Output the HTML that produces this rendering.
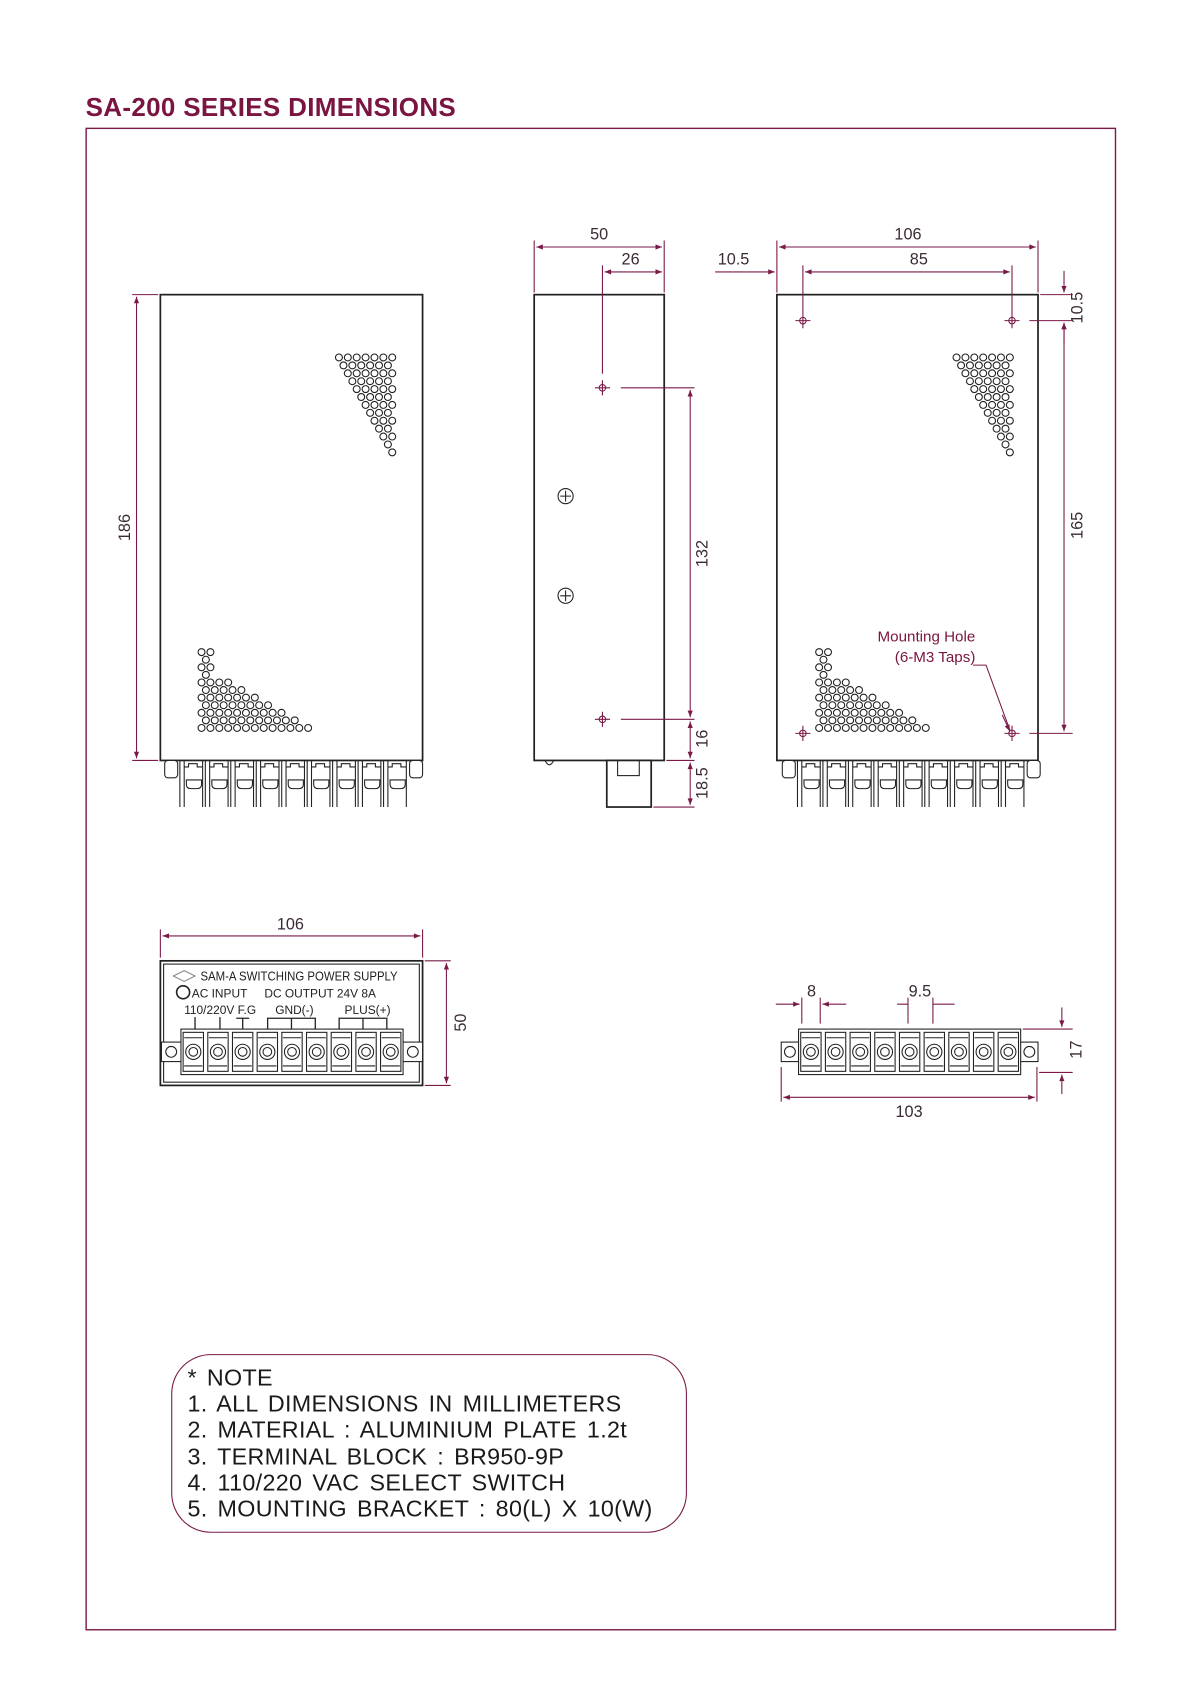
<!DOCTYPE html>
<html><head><meta charset="utf-8"><style>
html,body{margin:0;padding:0;background:#fff;}
svg{display:block;}
text{font-family:"Liberation Sans",sans-serif;}
</style></head><body>
<svg id="s" width="1200" height="1698" viewBox="0 0 1107.5 1567.5" preserveAspectRatio="none" xmlns="http://www.w3.org/2000/svg">
<defs>
<marker id="a" viewBox="0 0 10 10" refX="10" refY="5" markerWidth="8" markerHeight="6" orient="auto-start-reverse" markerUnits="userSpaceOnUse"><path d="M0,1 L10,5 L0,9 z" fill="#7a1a48"/></marker>
</defs>
<text x="79" y="107" font-size="24" fill="#7a1440" font-weight="bold" letter-spacing="0.3">SA-200  SERIES  DIMENSIONS</text>
<rect x="79.5" y="118.5" width="950" height="1386" fill="none" stroke="#7a1a48" stroke-width="1.3"/>

<g stroke="#222" stroke-width="1.6" fill="#fff">
<rect x="148" y="272" width="242" height="430"/>
<rect x="493" y="272" width="120" height="430"/>
<rect x="717" y="272" width="241" height="430"/>
<rect x="560" y="702" width="41" height="43"/>
<rect x="148" y="887" width="242" height="115"/>
</g>
<g stroke="#222" stroke-width="1" fill="none">
<rect x="151" y="890" width="236" height="109"/>
<rect x="570" y="702" width="20" height="14"/>
<path d="M503,702 q4,8 8,0"/>
<circle cx="522" cy="458" r="7"/><path d="M517,458h10M522,453v10"/>
<circle cx="522" cy="550" r="7"/><path d="M517,550h10M522,545v10"/>
</g>
<g id="vents" stroke="#222" stroke-width="1" fill="none"></g>
<g id="terms" stroke="#222" stroke-width="1" fill="#fff"></g>

<g stroke="#7a1a48" stroke-width="1" fill="none">
<path d="M549,358h14M556,351v14M549,664h14M556,657v14"/>
<path d="M734,296h14M741,289v14M927,296h14M934,289v14M734,677h14M741,670v14M927,677h14M934,670v14"/>
<circle cx="556" cy="358" r="3"/><circle cx="556" cy="664" r="3"/>
<circle cx="741" cy="296" r="3"/><circle cx="934" cy="296" r="3"/><circle cx="741" cy="677" r="3"/><circle cx="934" cy="677" r="3"/>
</g>

<g stroke="#7a1a48" stroke-width="1" fill="none">
<path d="M122,272h24M122,702h24"/><path d="M126,274V700" marker-start="url(#a)" marker-end="url(#a)"/>
<path d="M493,222v48M613,222v48M556,245v100"/>
<path d="M495,228H611" marker-start="url(#a)" marker-end="url(#a)"/>
<path d="M558,251H611" marker-start="url(#a)" marker-end="url(#a)"/>
<path d="M573,358h68M573,664h68M615,702h26M603,745h38"/>
<path d="M637,360V662" marker-start="url(#a)" marker-end="url(#a)"/>
<path d="M637,666V700" marker-start="url(#a)" marker-end="url(#a)"/>
<path d="M637,704V743" marker-start="url(#a)" marker-end="url(#a)"/>
<path d="M717,222v48M958,222v48M741,245v44M934,245v44"/>
<path d="M719,228H956" marker-start="url(#a)" marker-end="url(#a)"/>
<path d="M743,251H932" marker-start="url(#a)" marker-end="url(#a)"/>
<path d="M660,251H715" marker-end="url(#a)"/>
<path d="M960,272h30M950,296h40M950,677h40"/>
<path d="M982,250V270" marker-end="url(#a)"/><path d="M982,318V298" marker-end="url(#a)"/>
<path d="M982,298V675" marker-start="url(#a)" marker-end="url(#a)"/>
<path d="M898,614h12L932,674" /><path d="M925,660L932,675" marker-end="url(#a)"/>
<path d="M148,858v26M390,858v26"/><path d="M150,864H388" marker-start="url(#a)" marker-end="url(#a)"/>
<path d="M392,887h24M392,1002h24"/><path d="M412,889V1000" marker-start="url(#a)" marker-end="url(#a)"/>
<path d="M740,921v24M757,921v24M838,921v24M861,921v24"/>
<path d="M716,927H738" marker-end="url(#a)"/><path d="M781,927H759" marker-end="url(#a)"/>
<path d="M861,927h20M838,927h-10"/>
<path d="M944,950h46M959,990h31"/>
<path d="M980,930V948" marker-end="url(#a)"/><path d="M980,1010V992" marker-end="url(#a)"/>
<path d="M721,985v32M957,985v32"/><path d="M723,1013H955" marker-start="url(#a)" marker-end="url(#a)"/>
</g>
<g fill="#3a2a35" font-size="15" text-anchor="middle">
<text x="553" y="221">50</text><text x="582" y="244">26</text>
<text x="838" y="221">106</text><text x="848" y="244">85</text><text x="677" y="244">10.5</text>
<text x="268" y="858">106</text><text x="749" y="920">8</text><text x="849" y="920">9.5</text><text x="839" y="1031">103</text>
<text transform="translate(120,487) rotate(-90)">186</text>
<text transform="translate(653,511) rotate(-90)">132</text>
<text transform="translate(653,682) rotate(-90)">16</text>
<text transform="translate(653,723) rotate(-90)">18.5</text>
<text transform="translate(999,284) rotate(-90)">10.5</text>
<text transform="translate(999,485) rotate(-90)">165</text>
<text transform="translate(430,944) rotate(-90)">50</text>
<text transform="translate(998,969) rotate(-90)">17</text>
<text x="855" y="592" fill="#7a1440" font-size="14">Mounting Hole</text>
<text x="863" y="611" fill="#7a1440" font-size="14">(6-M3 Taps)</text>
</g>
<g fill="#222" font-size="11">
<path d="M160,901l10,-5 10,5 -10,5z" fill="none" stroke="#888"/>
<text x="185" y="905" font-size="12" textLength="182" lengthAdjust="spacingAndGlyphs">SAM-A SWITCHING POWER SUPPLY</text>
<circle cx="169" cy="916" r="6" fill="none" stroke="#222" stroke-width="1.5"/>
<text x="177" y="921">AC INPUT</text><text x="244" y="921">DC OUTPUT  24V 8A</text>
<text x="170" y="936">110/220V F.G</text><text x="254" y="936">GND(-)</text><text x="318" y="936">PLUS(+)</text>
</g>
<g stroke="#222" stroke-width="1.2" fill="none">
<path d="M180,939v11M203,939v11M218,940h12M224,940v10"/>
<path d="M247,950v-10h44v10M269,940v10M313,950v-10h44v10M335,940v10"/>
</g>

<rect x="158.5" y="1250.5" width="475" height="164" rx="36" fill="none" stroke="#7a1a48" stroke-width="1"/>
<g fill="#1a1a1a" font-size="21.5" letter-spacing="0.3" word-spacing="3">
<text x="173" y="1279">*  NOTE</text>
<text x="173" y="1303">1.  ALL  DIMENSIONS  IN  MILLIMETERS</text>
<text x="173" y="1327">2.  MATERIAL  :  ALUMINIUM  PLATE  1.2t</text>
<text x="173" y="1352">3.  TERMINAL  BLOCK  :  BR950-9P</text>
<text x="173" y="1376">4.  110/220  VAC  SELECT  SWITCH</text>
<text x="173" y="1400">5.  MOUNTING  BRACKET  :  80(L)  X  10(W)</text>
</g>
</svg>
<script>
var NS="http://www.w3.org/2000/svg";
function el(p,t,a){var e=document.createElementNS(NS,t);for(var k in a)e.setAttribute(k,a[k]);p.appendChild(e);return e;}
var v=document.getElementById("vents"),T=document.getElementById("terms");
function tri(xr,y0){for(var r=0;r<13;r++){var y=y0+r*7.3;var off=(r%2)?4:0;var xs=xr-56+r*4.4;for(var x=xr-off;x>=xs-0.1;x-=8.2)el(v,"circle",{cx:x,cy:y,r:3.2});}}
function tri2(xl,y0){for(var r=0;r<11;r++){var y=y0+r*7;var off=(r%2)?4:0;var xe=xl+(r<4?12:(r-3)*13+12);if(r==10)xe=xl+104;for(var x=xl+off;x<=xe+0.1;x+=8.2)el(v,"circle",{cx:x,cy:y,r:3.2});}}
tri(362,330);tri(932,330);tri2(186,602);tri2(756,602);
function under(x0){el(T,"rect",{x:x0,y:702,width:12,height:16,rx:3});el(T,"rect",{x:x0+226,y:702,width:12,height:16,rx:3});
for(var i=0;i<9;i++){var x=x0+14+i*23.5;el(T,"path",{d:"M"+x+",702v43M"+(x+4)+",702v43M"+(x+21)+",702v43M"+(x+4)+",708h4v-3h8v3h5",fill:"none"});
el(T,"path",{d:"M"+(x+6)+",720h14v4q0,4-4,4h-6q-4,0-4,-4z"});}}
under(152);under(722);
function block(bx,by,w,h,ex){el(T,"rect",{x:bx-ex,y:by+12,width:w+2*ex,height:h-24});el(T,"rect",{x:bx,y:by,width:w,height:h});
el(T,"circle",{cx:bx-ex/2,cy:by+h/2,r:5});el(T,"circle",{cx:bx+w+ex/2,cy:by+h/2,r:5});
var cw=w/9;for(var i=0;i<9;i++){var x=bx+i*cw;el(T,"rect",{x:x+2,y:by+3,width:cw-4,height:h-6,fill:"none"});
el(T,"path",{d:"M"+(x+3)+","+(by+8)+"h"+(cw-6)+"M"+(x+3)+","+(by+h-8)+"h"+(cw-6),fill:"none"});
el(T,"circle",{cx:x+cw/2,cy:by+h/2,r:7});el(T,"circle",{cx:x+cw/2,cy:by+h/2,r:4});}}
block(167,950,205,42,18);block(737,950,205,42,16);
</script>
</body></html>
